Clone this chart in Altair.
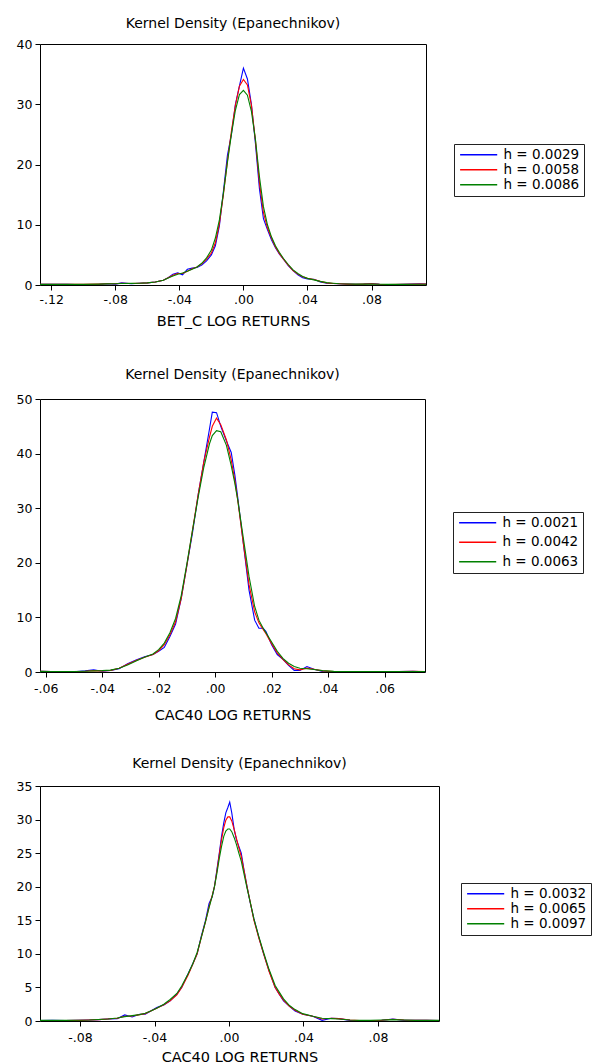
import altair as alt
import pandas as pd

FONT = "DejaVu Sans"
TITLE = "Kernel Density (Epanechnikov)"
COLORS = ["#0000ff", "#ff0000", "#008000"]

# ---------------- Panel 1: BET_C ----------------
x1 = [-0.127, -0.12, -0.11, -0.10, -0.09, -0.085, -0.08, -0.076, -0.07, -0.065,
      -0.06, -0.055, -0.05, -0.047, -0.044, -0.041, -0.038, -0.035, -0.032, -0.029,
      -0.026, -0.023, -0.020, -0.0175, -0.015, -0.0125, -0.010, -0.0075, -0.005, -0.0025,
      0.0, 0.0025, 0.005, 0.0075, 0.010, 0.0125, 0.015, 0.0175, 0.020, 0.0225,
      0.025, 0.028, 0.031, 0.034, 0.037, 0.040, 0.044, 0.048, 0.052, 0.056,
      0.06, 0.065, 0.07, 0.075, 0.08, 0.085, 0.09, 0.10, 0.11, 0.114]
blue1 = [0.1, 0.1, 0.1, 0.05, 0.1, 0.2, 0.15, 0.35, 0.2, 0.3,
         0.35, 0.5, 0.8, 1.2, 1.8, 2.0, 1.7, 2.6, 2.8, 2.9,
         3.3, 4.0, 5.0, 6.5, 9.8, 15.5, 21.5, 25.0, 30.0, 33.0,
         36.0, 34.2, 30.0, 23.5, 16.0, 11.0, 9.2, 7.5, 6.2, 5.1,
         4.3, 3.2, 2.4, 1.7, 1.2, 1.0, 0.95, 0.5, 0.3, 0.25,
         0.2, 0.15, 0.1, 0.15, 0.25, 0.1, 0.05, 0.1, 0.2, 0.15]
red1 = [0.1, 0.1, 0.1, 0.1, 0.15, 0.2, 0.2, 0.3, 0.25, 0.3,
        0.35, 0.5, 0.8, 1.2, 1.6, 1.9, 1.9, 2.3, 2.7, 3.0,
        3.5, 4.3, 5.3, 7.0, 10.2, 15.0, 20.5, 25.5, 29.8, 33.0,
        34.1, 33.2, 29.8, 24.0, 17.0, 12.0, 9.5, 7.8, 6.3, 5.2,
        4.3, 3.3, 2.4, 1.8, 1.35, 1.1, 0.9, 0.6, 0.35, 0.25,
        0.2, 0.15, 0.12, 0.15, 0.2, 0.12, 0.08, 0.1, 0.15, 0.15]
green1 = [0.1, 0.1, 0.1, 0.1, 0.15, 0.18, 0.22, 0.25, 0.27, 0.3,
          0.35, 0.5, 0.8, 1.15, 1.5, 1.8, 2.0, 2.3, 2.6, 3.0,
          3.6, 4.5, 5.8, 7.8, 10.8, 15.2, 20.3, 25.0, 29.0, 31.6,
          32.3, 31.5, 28.8, 24.2, 18.0, 13.0, 10.0, 8.0, 6.5, 5.4,
          4.4, 3.4, 2.5, 1.9, 1.4, 1.1, 0.85, 0.6, 0.4, 0.3,
          0.22, 0.17, 0.14, 0.15, 0.17, 0.13, 0.1, 0.1, 0.12, 0.12]
labels1 = ["h = 0.0029", "h = 0.0058", "h = 0.0086"]
xticks1 = [-0.12, -0.08, -0.04, 0.0, 0.04, 0.08]
yticks1 = [0, 10, 20, 30, 40]

# ---------------- Panel 2: CAC40 ----------------
x2 = [-0.062, -0.058, -0.054, -0.05, -0.046, -0.043, -0.04, -0.037, -0.034, -0.031,
      -0.028, -0.025, -0.022, -0.020, -0.018, -0.016, -0.014, -0.012, -0.010, -0.008,
      -0.006, -0.004, -0.002, -0.001, 0.0005, 0.002, 0.004, 0.0057, 0.007, 0.008,
      0.010, 0.012, 0.014, 0.0155, 0.017, 0.018, 0.020, 0.022, 0.024, 0.026,
      0.028, 0.030, 0.0325, 0.035, 0.038, 0.042, 0.046, 0.05, 0.055, 0.06,
      0.065, 0.07, 0.0743]
blue2 = [0.15, 0.1, 0.05, 0.05, 0.2, 0.4, 0.15, 0.3, 0.6, 1.5,
         2.2, 2.8, 3.2, 3.8, 4.5, 6.5, 8.8, 13.5, 19.5, 25.5,
         32.5, 38.5, 44.5, 47.6, 47.5, 45.0, 42.3, 40.2, 36.0, 32.0,
         23.5, 15.0, 9.5, 8.0, 8.0, 7.4, 5.0, 3.2, 2.3, 1.2,
         0.3, 0.3, 1.0, 0.5, 0.1, 0.05, 0.05, 0.05, 0.05, 0.1,
         0.1, 0.15, 0.05]
red2 = [0.15, 0.1, 0.05, 0.08, 0.15, 0.25, 0.2, 0.3, 0.7, 1.4,
        2.1, 2.7, 3.2, 3.9, 5.0, 6.8, 9.2, 13.5, 19.5, 26.0,
        32.5, 38.5, 43.0, 45.0, 46.5, 45.3, 42.5, 38.8, 35.0, 31.5,
        23.5, 16.0, 11.0, 9.0, 7.8, 7.0, 5.2, 3.5, 2.3, 1.3,
        0.6, 0.4, 0.7, 0.5, 0.2, 0.1, 0.05, 0.05, 0.05, 0.1,
        0.1, 0.12, 0.08]
green2 = [0.12, 0.1, 0.08, 0.1, 0.15, 0.2, 0.25, 0.35, 0.7, 1.3,
          2.0, 2.7, 3.3, 4.1, 5.3, 7.2, 9.8, 14.0, 19.8, 26.0,
          32.0, 37.5, 41.8, 43.3, 44.2, 44.0, 41.5, 37.8, 34.5, 31.5,
          24.5, 17.5, 12.0, 9.5, 8.0, 7.2, 5.5, 3.8, 2.5, 1.6,
          1.0, 0.7, 0.6, 0.45, 0.25, 0.12, 0.08, 0.06, 0.06, 0.08,
          0.1, 0.1, 0.08]
labels2 = ["h = 0.0021", "h = 0.0042", "h = 0.0063"]
xticks2 = [-0.06, -0.04, -0.02, 0.0, 0.02, 0.04, 0.06]
yticks2 = [0, 10, 20, 30, 40, 50]

# ---------------- Panel 3: CAC40 ----------------
x3 = [-0.1015, -0.095, -0.088, -0.081, -0.075, -0.07, -0.065, -0.06, -0.056, -0.052,
      -0.048, -0.045, -0.042, -0.0388, -0.035, -0.0316, -0.028, -0.0254, -0.022, -0.0195,
      -0.0171, -0.015, -0.0126, -0.0107, -0.009, -0.0078, -0.0065, -0.0052, -0.004, -0.0028,
      -0.0017, -0.0006, 0.0004, 0.0015, 0.0028, 0.004, 0.0053, 0.0066, 0.008, 0.0097,
      0.0115, 0.0134, 0.016, 0.0186, 0.0215, 0.0248, 0.027, 0.0293, 0.0325, 0.0355,
      0.0396, 0.045, 0.050, 0.055, 0.059, 0.065, 0.07, 0.076, 0.082, 0.088,
      0.094, 0.10, 0.106, 0.1128]
blue3 = [0.05, 0.1, 0.05, 0.1, 0.15, 0.2, 0.3, 0.35, 0.9, 0.6,
         1.0, 1.0, 1.5, 2.0, 2.4, 3.0, 4.0, 5.0, 7.0, 8.5,
         10.0, 12.5, 15.0, 17.5, 18.5, 20.0, 22.5, 25.0, 27.5, 29.5,
         31.0, 31.8, 32.6, 31.0, 28.5, 27.0, 26.0, 25.0, 22.6, 20.0,
         17.5, 15.2, 12.5, 10.0, 7.5, 5.0, 4.0, 3.0, 2.2, 1.5,
         1.0, 0.7, 0.1, 0.4, 0.35, 0.1, 0.05, 0.05, 0.1, 0.3,
         0.1, 0.1, 0.1, 0.05]
red3 = [0.08, 0.08, 0.08, 0.1, 0.15, 0.2, 0.3, 0.4, 0.7, 0.75,
        0.95, 1.1, 1.5, 1.9, 2.4, 3.0, 3.9, 5.0, 6.8, 8.4,
        10.0, 12.3, 14.8, 17.0, 18.7, 20.0, 22.3, 24.8, 27.0, 28.8,
        29.9, 30.4, 30.4, 29.8, 28.5, 27.2, 25.8, 24.5, 22.5, 20.0,
        17.6, 15.0, 12.4, 10.0, 7.4, 5.0, 4.0, 3.1, 2.2, 1.6,
        1.0, 0.7, 0.3, 0.4, 0.35, 0.15, 0.08, 0.08, 0.12, 0.25,
        0.15, 0.1, 0.1, 0.08]
green3 = [0.1, 0.1, 0.1, 0.12, 0.15, 0.22, 0.3, 0.45, 0.65, 0.8,
          0.95, 1.15, 1.5, 1.9, 2.5, 3.2, 4.1, 5.2, 7.0, 8.5,
          10.2, 12.3, 14.8, 16.9, 18.6, 20.0, 22.0, 24.2, 26.0, 27.5,
          28.3, 28.6, 28.6, 28.2, 27.3, 26.3, 25.0, 23.8, 22.0, 19.8,
          17.6, 15.2, 12.6, 10.2, 7.7, 5.3, 4.3, 3.3, 2.3, 1.7,
          1.1, 0.7, 0.4, 0.35, 0.3, 0.15, 0.1, 0.1, 0.15, 0.2,
          0.15, 0.1, 0.1, 0.1]
labels3 = ["h = 0.0032", "h = 0.0065", "h = 0.0097"]
xticks3 = [-0.08, -0.04, 0.0, 0.04, 0.08]
yticks3 = [0, 5, 10, 15, 20, 25, 30, 35]

LABEL_EXPR = "(datum.value < -1e-9 ? '-' : '') + replace(format(abs(datum.value), '.2f'), '0.', '.')"


def panel(x, series, labels, xdomain, xticks, ydomain, yticks, xtitle,
          width, height, lx, ly, row_pad, title_off, xlabel_pad, xtitle_pad):
    rows = []
    for lab, ys in zip(labels, series):
        for xv, yv in zip(x, ys):
            rows.append({"x": xv, "y": yv, "h": lab})
    df = pd.DataFrame(rows)
    title = alt.TitleParams(TITLE, font=FONT, fontSize=14, fontWeight="normal",
                            color="black", anchor="middle", frame="group",
                            offset=title_off)
    return alt.Chart(df, title=title).mark_line(strokeWidth=1.1, clip=True).encode(
        x=alt.X("x:Q",
                scale=alt.Scale(domain=xdomain, nice=False, zero=False),
                axis=alt.Axis(values=xticks, labelExpr=LABEL_EXPR, title=xtitle,
                              grid=False, domain=False, tickSize=5, tickColor="black",
                              labelPadding=xlabel_pad, labelFont=FONT, labelFontSize=12.5,
                              labelColor="black", labelFlush=False,
                              titleFont=FONT, titleFontSize=14.5, titleFontWeight="normal",
                              titleColor="black", titlePadding=xtitle_pad)),
        y=alt.Y("y:Q",
                scale=alt.Scale(domain=ydomain, nice=False, zero=True),
                axis=alt.Axis(values=yticks, title=None, grid=False, domain=False,
                              tickSize=5, tickColor="black", labelPadding=3,
                              labelFont=FONT, labelFontSize=12.5, labelColor="black",
                              labelFlush=False)),
        color=alt.Color("h:N", sort=labels,
                        scale=alt.Scale(domain=labels, range=COLORS),
                        legend=alt.Legend(orient="none", legendX=lx, legendY=ly,
                                          title=None, symbolType="M-1,0L7,0",
                                          symbolSize=86, symbolStrokeWidth=1.3,
                                          labelFont=FONT, labelFontSize=13.5,
                                          labelColor="black", labelOffset=32,
                                          padding=4, rowPadding=row_pad,
                                          strokeColor="#222222", fillColor="white",
                                          cornerRadius=0)),
    ).properties(width=width, height=height)


p1 = panel(x1, [blue1, red1, green1], labels1, [-0.127, 0.114], xticks1,
           [0, 40], yticks1, "BET_C LOG RETURNS", 386, 241, 414, 100, 0, 7, 3, 9)
p2 = panel(x2, [blue2, red2, green2], labels2, [-0.062, 0.0743], xticks2,
           [0, 50], yticks2, "CAC40 LOG RETURNS", 385, 273, 413, 113, 4.5, 11, 5, 14)
p3 = panel(x3, [blue3, red3, green3], labels3, [-0.1015, 0.1128], xticks3,
           [0, 35], yticks3, "CAC40 LOG RETURNS", 399, 235, 421, 97, 0, 9, 5, 7)

chart = alt.vconcat(p1, p2, p3, spacing=114, bounds="flush").resolve_scale(
    x="independent", y="independent", color="independent"
).resolve_legend(color="independent").properties(
    padding={"left": 7, "top": 8, "right": 0, "bottom": 0},
    background="white",
).configure_view(stroke="black", strokeWidth=1)

chart.save("out.html", embed_options={"renderer": "svg", "actions": False})
